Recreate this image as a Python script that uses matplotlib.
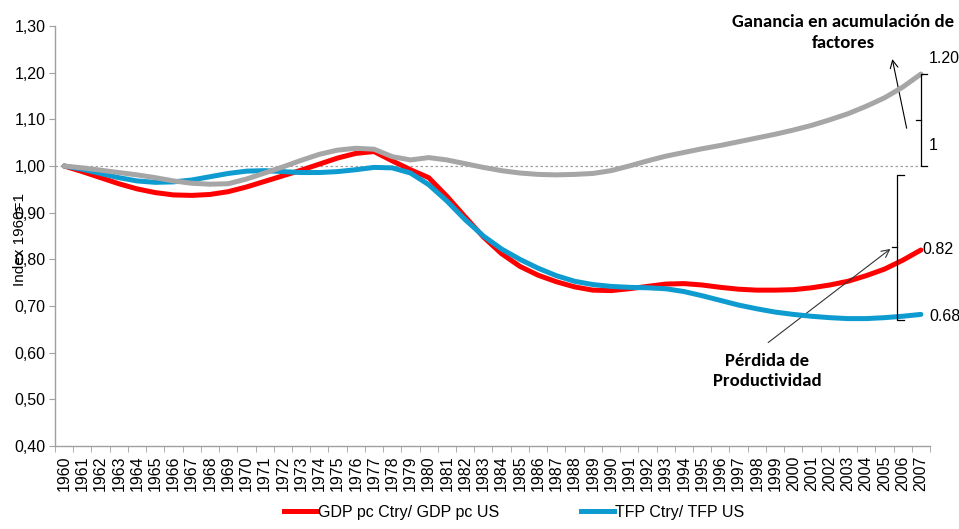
import matplotlib
matplotlib.use("Agg")
import matplotlib.pyplot as plt
from matplotlib import font_manager as fm
import numpy as np

years = [str(y) for y in range(1960, 2008)]
gdp = [1.000, 0.988, 0.975, 0.962, 0.951, 0.943, 0.938, 0.937, 0.939, 0.945,
       0.955, 0.967, 0.979, 0.991, 1.004, 1.017, 1.027, 1.031, 1.011, 0.992,
       0.975, 0.935, 0.891, 0.848, 0.812, 0.785, 0.766, 0.752, 0.741, 0.734,
       0.733, 0.737, 0.742, 0.747, 0.748, 0.745, 0.740, 0.736, 0.734, 0.734,
       0.735, 0.739, 0.745, 0.753, 0.765, 0.779, 0.798, 0.820]
tfp = [1.000, 0.993, 0.984, 0.975, 0.968, 0.965, 0.966, 0.970, 0.977, 0.984,
       0.989, 0.990, 0.988, 0.986, 0.986, 0.988, 0.992, 0.997, 0.996, 0.985,
       0.960, 0.925, 0.885, 0.850, 0.822, 0.800, 0.781, 0.765, 0.753, 0.746,
       0.742, 0.740, 0.739, 0.737, 0.731, 0.722, 0.712, 0.702, 0.694, 0.687,
       0.682, 0.678, 0.675, 0.673, 0.673, 0.675, 0.678, 0.682]
factors = [1.000, 0.996, 0.991, 0.986, 0.981, 0.975, 0.968, 0.963, 0.961, 0.962,
           0.972, 0.985, 0.998, 1.012, 1.025, 1.034, 1.038, 1.036, 1.020, 1.013,
           1.018, 1.013, 1.005, 0.997, 0.990, 0.985, 0.982, 0.981, 0.982, 0.984,
           0.990, 1.000, 1.011, 1.021, 1.029, 1.037, 1.044, 1.052, 1.060, 1.068,
           1.077, 1.087, 1.099, 1.112, 1.128, 1.146, 1.169, 1.197]
yticks = [0.40, 0.50, 0.60, 0.70, 0.80, 0.90, 1.00, 1.10, 1.20, 1.30]

RED = "#FF0000"
BLUE = "#0E9BD0"
GRAY = "#A6A6A6"
plt.rcParams['font.family'] = ['Liberation Sans', 'DejaVu Sans']
avail = set(f.name for f in fm.fontManager.ttflist)
BOLD_FAMILY = [f for f in ["Carlito", "Lato", "DejaVu Sans"] if f in avail]
FS = 11.5

fig = plt.figure(figsize=(9.59, 5.29), dpi=100)
ax = fig.add_axes([55/959, 1-446/529, (930-55)/959, (446-26)/529])
x = np.arange(len(years))

n = len(years)
ax.plot([-0.5, n - 1], [1.0, 1.0], color="#A0A0A0", lw=0.9, ls=(0, (2, 2)), zorder=1)
ax.plot(x, gdp, color=RED, lw=3.6, solid_capstyle="round", solid_joinstyle="round", zorder=3)
ax.plot(x, tfp, color=BLUE, lw=3.6, solid_capstyle="round", solid_joinstyle="round", zorder=4)
ax.plot(x, factors, color=GRAY, lw=3.6, solid_capstyle="round", solid_joinstyle="round", zorder=5)

ax.set_xlim(-0.5, n - 0.5)
ax.set_ylim(0.40, 1.30)
ax.set_yticks(yticks)
ax.set_yticklabels([f"{v:.2f}".replace(".", ",") for v in yticks], fontsize=FS)
ax.set_xticks(x)
ax.set_xticklabels(years, rotation=90, fontsize=FS)
ax.set_xticks(np.arange(-0.5, n, 1.0), minor=True)
ax.tick_params(axis="x", which="major", length=0, pad=7)
ax.tick_params(axis="x", which="minor", length=4, color="#A0A0A0")
ax.tick_params(axis="y", length=4, color="#A0A0A0", pad=3)
for s in ["top", "right"]:
    ax.spines[s].set_visible(False)
for s in ["left", "bottom"]:
    ax.spines[s].set_color("#A0A0A0")
    ax.spines[s].set_linewidth(1.0)

fig.text(20/959, 1-240/529, "Index 1960=1", rotation=90, ha="center", va="center", fontsize=11)

# Upper brace (factor gain)
xb = n - 1
top = factors[-1]
ax.plot([xb + 0.35, xb, xb, xb + 0.35], [top, top, 1.0, 1.0], color="black", lw=0.9, zorder=6)
ax.plot([xb, xb - 0.25], [(top + 1.0) / 2] * 2, color="black", lw=0.9, zorder=6)
ax.text(xb + 0.45, top + 0.017, f"{top:.2f}", fontsize=FS, ha="left", va="bottom")
ax.text(xb + 0.45, 1.045, "1", fontsize=FS, ha="left", va="center")
ax.annotate("", xy=(n - 2.6, 1.235), xytext=(n - 1.75, 1.075),
            arrowprops=dict(arrowstyle="->", color="black", lw=0.8, mutation_scale=14))
ax.text(n - 5.25, 1.247, "Ganancia en acumulación de\nfactores", fontsize=13.4,
        fontweight="bold", family=BOLD_FAMILY, ha="center", va="bottom", linespacing=1.4)

# Lower brace (productivity loss)
xl = n - 2.3
yb_top, yb_bot = 0.981, 0.670
ax.plot([xl + 0.35, xl, xl, xl + 0.35], [yb_top, yb_top, yb_bot, yb_bot], color="black", lw=0.9, zorder=6)
ax.plot([xl, xl - 0.3], [0.826, 0.826], color="black", lw=0.9, zorder=6)
ax.text(xb + 0.1, gdp[-1], f"{gdp[-1]:.2f}", fontsize=FS, ha="left", va="center")
ax.text(xb + 0.45, tfp[-1] - 0.005, f"{tfp[-1]:.2f}", fontsize=FS, ha="left", va="center")
ax.annotate("", xy=(xl - 0.25, 0.826), xytext=(38.5, 0.618),
            arrowprops=dict(arrowstyle="->", color="#333333", lw=0.8, mutation_scale=14))
ax.text(38.55, 0.600, "Pérdida de\nProductividad", fontsize=13.4, fontweight="bold",
        family=BOLD_FAMILY, ha="center", va="top", linespacing=1.35)

# Legend
h1, = ax.plot([], [], color=RED, lw=3.6, label="GDP pc Ctry/ GDP pc US")
h2, = ax.plot([], [], color=BLUE, lw=3.6, label="TFP Ctry/ TFP US")
fig.legend(handles=[h1, h2], loc="center", bbox_to_anchor=(514/959, 1-512/529), ncol=2,
           frameon=False, fontsize=FS, handlelength=2.1, handletextpad=0.05,
           columnspacing=5.1, borderpad=0)

fig.savefig("out.png", dpi=100)
